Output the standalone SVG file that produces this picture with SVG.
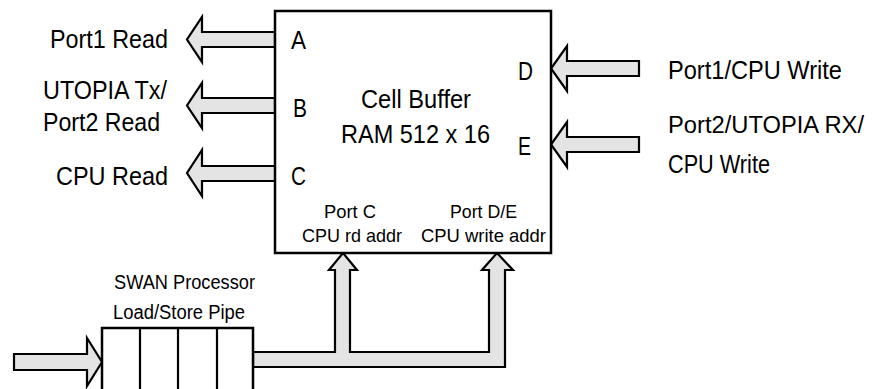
<svg xmlns="http://www.w3.org/2000/svg" width="874" height="389" viewBox="0 0 874 389">
<style>
  text { font-family: "Liberation Sans", Arial, sans-serif; fill: #000; }
  .lg { font-size: 25.5px; }
  .sm { font-size: 18.5px; }
  .md { font-size: 20px; }
  .box { fill: #fff; stroke: #000; stroke-width: 2.5; }
  .arrow { fill: #e4e4e4; stroke: #000; stroke-width: 2.2; stroke-linejoin: miter; }
  .div { stroke: #000; stroke-width: 2.2; }
</style>
<rect width="874" height="389" fill="#fff"/>

<g id="connectors">
  <polygon class="arrow" points="275,32 202,32 202,17 187,39.5 202,62 202,47 275,47"/>
  <polygon class="arrow" points="275,98 202,98 202,83 187,105.5 202,128 202,113 275,113"/>
  <polygon class="arrow" points="277,166 202,166 202,150 187,173 202,196 202,181 277,181"/>
  <polygon class="arrow" points="639,61 567,61 567,46 551,68.5 567,91 567,76 639,76"/>
  <polygon class="arrow" points="639,137 567,137 567,122 551,144.5 567,167 567,152 639,152"/>
  <polygon class="arrow" points="14,354 87,354 87,338 102,362 87,386 87,370 14,370"/>
  <polygon class="arrow" points="253,352 335,352 335,270 329,270 343,253 357,270 350,270 350,352 489,352 489,270 482,270 497,253 513,270 505,270 505,367 253,367"/>
</g>

<g id="cell-buffer">
  <rect class="box" x="275" y="11" width="276" height="242"/>
  <text class="lg" x="291" y="49" textLength="15" lengthAdjust="spacingAndGlyphs">A</text>
  <text class="lg" x="293" y="117" textLength="14" lengthAdjust="spacingAndGlyphs">B</text>
  <text class="lg" x="291" y="185" textLength="15" lengthAdjust="spacingAndGlyphs">C</text>
  <text class="lg" x="518" y="80" textLength="15" lengthAdjust="spacingAndGlyphs">D</text>
  <text class="lg" x="518" y="155" textLength="13" lengthAdjust="spacingAndGlyphs">E</text>
  <text class="lg" x="361" y="108" textLength="110" lengthAdjust="spacingAndGlyphs">Cell Buffer</text>
  <text class="lg" x="341" y="143" textLength="149" lengthAdjust="spacingAndGlyphs">RAM 512 x 16</text>
  <text class="sm" x="324" y="218" textLength="52" lengthAdjust="spacingAndGlyphs">Port C</text>
  <text class="sm" x="302" y="242" textLength="100" lengthAdjust="spacingAndGlyphs">CPU rd addr</text>
  <text class="sm" x="450" y="218" textLength="67" lengthAdjust="spacingAndGlyphs">Port D/E</text>
  <text class="sm" x="421" y="242" textLength="125" lengthAdjust="spacingAndGlyphs">CPU write addr</text>
</g>

<g id="pipe">
  <rect class="box" x="102" y="328" width="151" height="70"/>
  <line class="div" x1="140" y1="328" x2="140" y2="395"/>
  <line class="div" x1="178" y1="328" x2="178" y2="395"/>
  <line class="div" x1="217" y1="328" x2="217" y2="395"/>
  <text class="md" x="114" y="289" textLength="141" lengthAdjust="spacingAndGlyphs">SWAN Processor</text>
  <text class="md" x="113" y="319" textLength="132" lengthAdjust="spacingAndGlyphs">Load/Store Pipe</text>
</g>

<g id="port1-read">
  <text class="lg" x="50" y="48" textLength="118" lengthAdjust="spacingAndGlyphs">Port1 Read</text>
</g>
<g id="utopia-tx">
  <text class="lg" x="43" y="99" textLength="124" lengthAdjust="spacingAndGlyphs">UTOPIA Tx/</text>
  <text class="lg" x="43" y="131" textLength="117" lengthAdjust="spacingAndGlyphs">Port2 Read</text>
</g>
<g id="cpu-read">
  <text class="lg" x="56" y="185" textLength="112" lengthAdjust="spacingAndGlyphs">CPU Read</text>
</g>
<g id="port1-cpu-write">
  <text class="lg" x="668" y="79" textLength="174" lengthAdjust="spacingAndGlyphs">Port1/CPU Write</text>
</g>
<g id="port2-utopia-rx">
  <text x="668" y="133" style="font-size:23px" textLength="196" lengthAdjust="spacingAndGlyphs">Port2/UTOPIA RX/</text>
  <text class="lg" x="668" y="173" textLength="102" lengthAdjust="spacingAndGlyphs">CPU Write</text>
</g>
</svg>
